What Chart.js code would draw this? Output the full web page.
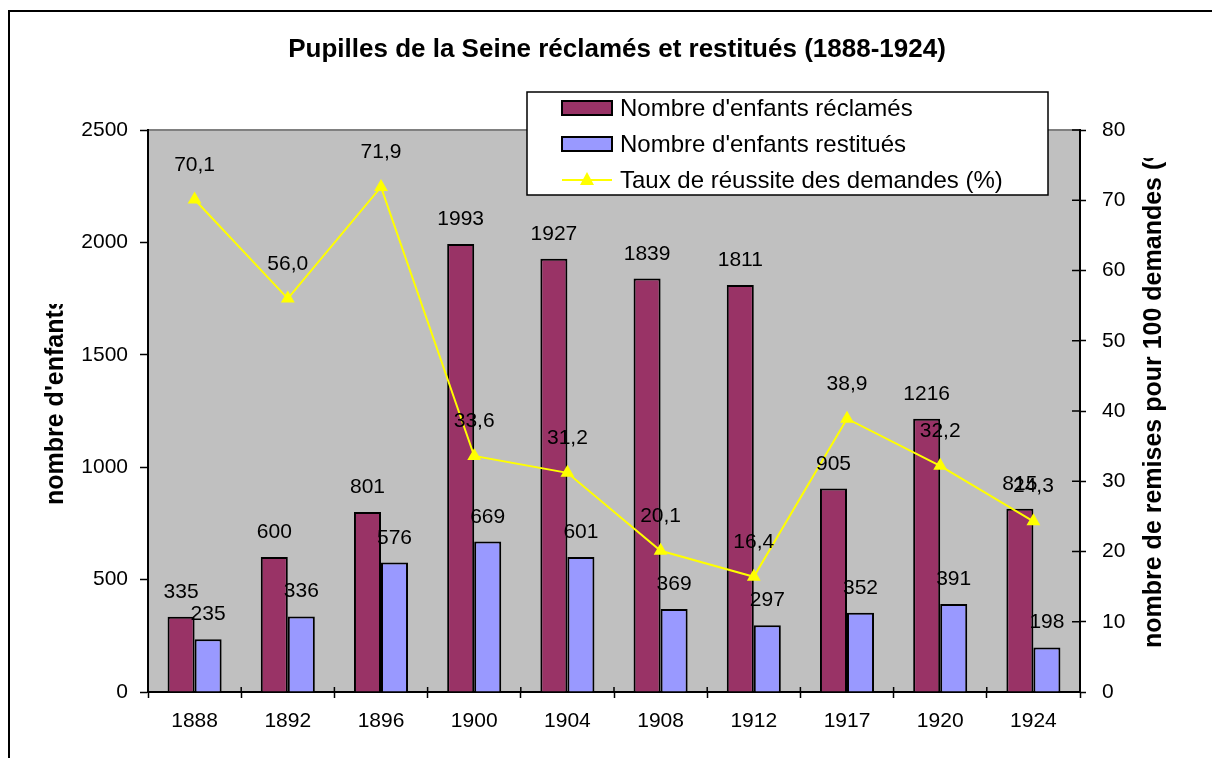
<html>
<head>
<script src="https://cdn.jsdelivr.net/npm/chart.js"></script>
<title>Pupilles de la Seine</title>
<style>
  body { margin: 0; background: #fff; }
</style>
</head>
<body>
<canvas id="myChart" width="1212" height="758"></canvas>
<script>
// donnees
const years = ['1888', '1892', '1896', '1900', '1904', '1908', '1912', '1917', '1920', '1924'];
const reclames = [335, 600, 801, 1993, 1927, 1839, 1811, 905, 1216, 815];
const restitues = [235, 336, 576, 669, 601, 369, 297, 352, 391, 198];
const taux = [70.1, 56.0, 71.9, 33.6, 31.2, 20.1, 16.4, 38.9, 32.2, 24.3];

const titre = 'Pupilles de la Seine réclamés et restitués (1888-1924)';
const titreGauche = "nombre d'enfants";
const titreDroite = 'nombre de remises pour 100 demandes (%)';
const legendes = ["Nombre d'enfants réclamés", "Nombre d'enfants restitués", 'Taux de réussite des demandes (%)'];

const FONT = '"Liberation Sans", Arial, sans-serif';
const MAROON = '#993366';
const BLUE = '#9999FF';
const YELLOW = '#FFFF00';

const decor = {
    id: 'decor',
    beforeDraw(chart) {
        const ctx = chart.ctx;
        const a = chart.chartArea;
        ctx.save();
        ctx.fillStyle = '#fff';
        ctx.fillRect(0, 0, chart.width, chart.height);
        // cadre exterieur
        ctx.strokeStyle = '#000';
        ctx.lineWidth = 2;
        ctx.beginPath();
        ctx.moveTo(1212, 11);
        ctx.lineTo(9, 11);
        ctx.lineTo(9, 758);
        ctx.stroke();
        // zone de tracage
        ctx.fillStyle = '#C0C0C0';
        ctx.fillRect(a.left, a.top, a.right - a.left, a.bottom - a.top);
        ctx.strokeStyle = '#808080';
        ctx.lineWidth = 2;
        ctx.beginPath();
        ctx.moveTo(a.left, a.top);
        ctx.lineTo(a.right, a.top);
        ctx.stroke();
        ctx.restore();
    },
    afterDatasetsDraw(chart) {
        const ctx = chart.ctx;
        const a = chart.chartArea;
        ctx.save();
        // demi-graduations interieures (style Excel)
        ctx.strokeStyle = '#000';
        ctx.lineWidth = 1.5;
        const y2 = chart.scales.y2;
        y2.ticks.forEach((t) => {
            const py = y2.getPixelForValue(t.value);
            ctx.beginPath();
            ctx.moveTo(a.right - 8, py);
            ctx.lineTo(a.right, py);
            ctx.stroke();
        });
        const n = years.length;
        for (let i = 0; i <= n; i++) {
            const px = a.left + i * (a.right - a.left) / n;
            ctx.beginPath();
            ctx.moveTo(px, a.bottom - 5);
            ctx.lineTo(px, a.bottom);
            ctx.stroke();
        }
        // etiquettes de donnees
        ctx.fillStyle = '#000';
        ctx.font = '21px ' + FONT;
        ctx.textAlign = 'center';
        ctx.textBaseline = 'alphabetic';
        chart.data.datasets.forEach((ds, di) => {
            const meta = chart.getDatasetMeta(di);
            meta.data.forEach((el, i) => {
                const v = ds.data[i];
                if (ds.type === 'line') {
                    ctx.fillText(v.toFixed(1).replace('.', ','), el.x, el.y - 29);
                } else {
                    ctx.fillText(String(v), el.x, el.y - 19);
                }
            });
        });
        ctx.restore();
    },
    afterDraw(chart) {
        const ctx = chart.ctx;
        ctx.save();
        ctx.fillStyle = '#000';
        // titre
        ctx.font = 'bold 26px ' + FONT;
        ctx.textAlign = 'center';
        ctx.textBaseline = 'middle';
        ctx.fillText(titre, 617, 50);

        // titres des axes (coupes comme dans l'original)
        ctx.font = 'bold 25px ' + FONT;
        ctx.textAlign = 'left';
        ctx.textBaseline = 'middle';
        ctx.save();
        ctx.beginPath();
        ctx.rect(30, 304, 60, 300);
        ctx.clip();
        ctx.translate(56, 505);
        ctx.rotate(-Math.PI / 2);
        ctx.fillText(titreGauche, 0, 0);
        ctx.restore();

        ctx.save();
        ctx.beginPath();
        ctx.rect(1130, 158, 60, 600);
        ctx.clip();
        ctx.translate(1154, 648);
        ctx.rotate(-Math.PI / 2);
        ctx.fillText(titreDroite, 0, 0);
        ctx.restore();

        // legende
        ctx.fillStyle = '#fff';
        ctx.fillRect(527, 92, 521, 103);
        ctx.strokeStyle = '#000';
        ctx.lineWidth = 1.5;
        ctx.strokeRect(527, 92, 521, 103);
        const rows = [108, 144, 180];
        ctx.font = '24px ' + FONT;
        ctx.textBaseline = 'middle';
        ctx.textAlign = 'left';
        [MAROON, BLUE].forEach((c, i) => {
            ctx.fillStyle = c;
            ctx.fillRect(562, rows[i] - 7, 50, 14);
            ctx.lineWidth = 2;
            ctx.strokeRect(562, rows[i] - 7, 50, 14);
        });
        ctx.strokeStyle = YELLOW;
        ctx.lineWidth = 2;
        ctx.beginPath();
        ctx.moveTo(562, rows[2]);
        ctx.lineTo(612, rows[2]);
        ctx.stroke();
        ctx.fillStyle = YELLOW;
        ctx.beginPath();
        ctx.moveTo(587, rows[2] - 8);
        ctx.lineTo(594, rows[2] + 5);
        ctx.lineTo(580, rows[2] + 5);
        ctx.closePath();
        ctx.fill();
        ctx.fillStyle = '#000';
        legendes.forEach((t, i) => ctx.fillText(t, 620, rows[i] + 1));
        ctx.restore();
    }
};

const data = {
    labels: years,
    datasets: [
        {
            type: 'line',
            label: legendes[2],
            data: taux,
            yAxisID: 'y2',
            borderColor: YELLOW,
            backgroundColor: YELLOW,
            borderWidth: 2,
            pointStyle: 'triangle',
            pointRadius: 8,
            pointBorderWidth: 0,
            tension: 0,
            order: 0
        },
        {
            type: 'bar',
            label: legendes[0],
            data: reclames,
            yAxisID: 'y',
            backgroundColor: MAROON,
            borderColor: '#000',
            borderWidth: 2,
            order: 1
        },
        {
            type: 'bar',
            label: legendes[1],
            data: restitues,
            yAxisID: 'y',
            backgroundColor: BLUE,
            borderColor: '#000',
            borderWidth: 2,
            order: 1
        }
    ]
};

const config = {
    type: 'bar',
    data: data,
    options: {
        responsive: false,
        animation: false,
        layout: { padding: { top: 130, left: 0, right: 0, bottom: 0 } },
        datasets: { bar: { categoryPercentage: 0.58, barPercentage: 1 } },
        plugins: {
            legend: { display: false },
            title: { display: false },
            tooltip: { enabled: false }
        },
        scales: {
            x: {
                offset: true,
                grid: { offset: true, drawOnChartArea: false, tickLength: 6, tickColor: '#000', tickWidth: 1.5 },
                border: { color: '#000', width: 2 },
                ticks: { color: '#000', font: { family: FONT, size: 21 }, padding: 11, maxRotation: 0 },
                afterFit(s) { s.height = 66; }
            },
            y: {
                position: 'left',
                min: 0,
                max: 2500,
                ticks: { stepSize: 500, color: '#000', font: { family: FONT, size: 21 }, padding: 12, callback: (v) => String(v) },
                grid: { drawOnChartArea: false, tickLength: 8, tickColor: '#000', tickWidth: 1.5 },
                border: { color: '#000', width: 2 },
                afterFit(s) { s.width = 148; }
            },
            y2: {
                position: 'right',
                min: 0,
                max: 80,
                ticks: { stepSize: 10, color: '#000', font: { family: FONT, size: 21 }, padding: 16, callback: (v) => String(v) },
                grid: { drawOnChartArea: false, tickLength: 6, tickColor: '#000', tickWidth: 1.5 },
                border: { color: '#000', width: 2 },
                afterFit(s) { s.width = 132; }
            }
        }
    },
    plugins: [decor]
};

const myChart = new Chart(document.getElementById('myChart'), config);
</script>
</body>
</html>
